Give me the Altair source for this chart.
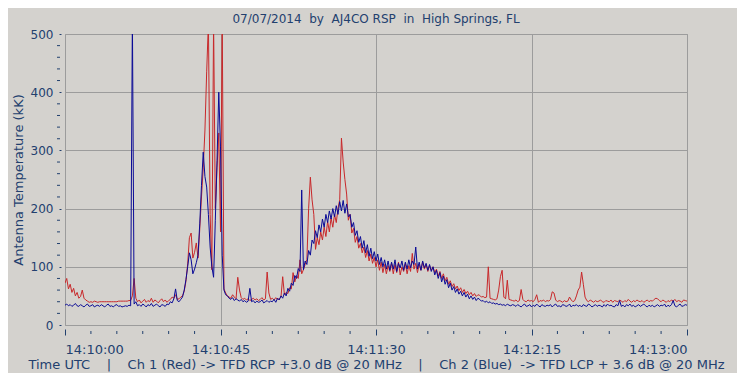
import altair as alt
import pandas as pd

# ---------------- text ----------------
NB = "\u00a0"
title_text = f"07/07/2014{NB*2}by{NB*2}AJ4CO RSP{NB*2}in{NB*2}High Springs, FL"
y_title = "Antenna Temperature (kK)"
caption = (f"Time UTC{NB*4}|{NB*4}Ch 1 (Red) -> TFD RCP +3.0 dB @ 20 MHz"
           f"{NB*4}|{NB*4}Ch 2 (Blue){NB*2}-> TFD LCP + 3.6 dB @ 20 MHz")

# ---------------- axes ----------------
x_tick_seconds = [0, 45, 90, 135, 180]
x_tick_labels = ["14:10:00", "14:10:45", "14:11:30", "14:12:15", "14:13:00"]
x_minor_seconds = [7.5, 15, 22.5, 30, 37.5, 52.5, 60, 67.5, 75, 82.5,
                   97.5, 105, 112.5, 120, 127.5, 142.5, 150, 157.5, 165, 172.5]
y_ticks = [0, 100, 200, 300, 400, 500]
y_minor = [20, 40, 60, 80, 120, 140, 160, 180, 220, 240, 260, 280,
           320, 340, 360, 380, 420, 440, 460, 480]

# ---------------- data (sampled every 0.5 s from 14:10:00) ----------------
sample_step = 0.5
red_kK = [
    72, 80, 62, 70, 56, 63, 50, 56, 46, 49, 60, 46, 43, 41, 39, 40, 39, 41, 40, 39,
    40, 40, 40, 40, 40, 40, 40, 40, 40, 40, 40, 41, 41, 41, 41, 41, 41, 42, 42, 50,
    80, 46, 40, 43, 38, 41, 44, 39, 42, 40, 46, 39, 43, 41, 38, 42, 45, 40, 43, 39,
    42, 44, 48, 46, 52, 44, 45, 48, 50, 58, 75, 105, 150, 158, 115, 125, 141, 115, 165, 220,
    270, 335, 435, 520, 190, 95, 520, 200, 270, 330, 160, 520, 62, 55, 50, 48, 46, 52, 48, 45,
    82, 60, 47, 44, 46, 43, 45, 42, 44, 46, 43, 45, 42, 44, 47, 43, 45, 91, 55, 44,
    46, 43, 47, 44, 45, 48, 83, 52, 56, 54, 64, 62, 90, 74, 85, 80, 112, 88, 95, 104,
    112, 200, 254, 215, 190, 130, 150, 138, 160, 146, 168, 152, 178, 160, 184, 168, 190, 176, 200, 215,
    321, 280, 250, 225, 180, 190, 158, 166, 142, 152, 132, 140, 124, 134, 116, 128, 110, 122, 106, 116,
    100, 112, 94, 108, 90, 104, 88, 102, 92, 106, 88, 104, 90, 108, 86, 100, 92, 106, 88, 102,
    92, 123, 96, 106, 90, 104, 94, 108, 96, 104, 92, 102, 94, 100, 90, 96, 84, 92, 80, 88,
    76, 82, 70, 76, 66, 71, 62, 67, 59, 64, 56, 61, 54, 58, 52, 56, 50, 54, 49, 52,
    51, 48, 49, 47, 48, 100, 46, 45, 44, 43, 45, 60, 83, 94, 48, 45, 77, 44, 43, 42,
    41, 43, 40, 42, 61, 44, 41, 40, 43, 41, 42, 40, 44, 52, 39, 42, 41, 43, 40, 42,
    41, 44, 57, 55, 43, 40, 42, 41, 39, 42, 40, 41, 48, 43, 40, 42, 50, 60, 65, 91,
    70, 48, 42, 40, 43, 41, 39, 42, 40, 41, 43, 40, 39, 42, 41, 40, 43, 39, 42, 41,
    40, 43, 41, 39, 42, 40, 44, 41, 39, 42, 40, 43, 41, 40, 42, 39, 41, 43, 40, 42,
    41, 44, 46, 45, 42, 40, 43, 41, 39, 42, 40, 43, 41, 44, 40, 42, 41, 39, 43, 42,
    41,
]
blue_kK = [
    34, 36, 33, 35, 32, 34, 37, 33, 32, 35, 33, 31, 34, 36, 32, 33, 35, 31, 33, 34,
    32, 35, 33, 31, 34, 36, 32, 33, 31, 34, 35, 32, 33, 31, 32, 33, 32, 34, 33, 530,
    36, 40, 33, 35, 32, 36, 34, 31, 35, 33, 37, 32, 34, 36, 33, 31, 35, 34, 32, 36,
    35, 40, 38, 45, 62, 42, 40, 44, 48, 60, 78, 100, 124, 112, 88, 96, 107, 120, 175, 240,
    297, 255, 237, 190, 134, 100, 82, 180, 283, 400, 306, 120, 60, 52, 50, 46, 44, 47, 42, 45,
    43, 41, 44, 40, 42, 39, 41, 63, 40, 42, 38, 41, 39, 40, 43, 38, 40, 42, 39, 41,
    40, 44, 39, 46, 43, 50, 46, 55, 50, 63, 58, 72, 68, 85, 80, 97, 92, 232, 95, 110,
    104, 128, 120, 146, 140, 162, 150, 172, 160, 182, 168, 190, 176, 196, 182, 200, 186, 205, 190, 212,
    196, 214, 192, 208, 186, 190, 168, 176, 154, 162, 142, 152, 132, 145, 124, 138, 118, 132, 114, 126,
    110, 122, 104, 116, 100, 112, 96, 110, 94, 108, 96, 112, 92, 106, 98, 110, 94, 108, 96, 112,
    98, 110, 104, 134, 96, 108, 94, 110, 98, 106, 94, 104, 92, 100, 86, 94, 80, 90, 74, 84,
    70, 78, 64, 72, 60, 66, 56, 62, 53, 58, 50, 56, 48, 53, 45, 50, 44, 48, 42, 46,
    44, 41, 42, 39, 41, 38, 40, 37, 38, 36, 37, 35, 36, 34, 35, 33, 36, 34, 33, 35,
    34, 32, 35, 33, 31, 34, 36, 32, 33, 35, 31, 34, 32, 36, 33, 31, 35, 33, 32, 34,
    33, 35, 31, 34, 36, 32, 33, 31, 35, 34, 32, 33, 36, 31, 34, 33, 35, 32, 34, 31,
    35, 33, 32, 36, 34, 31, 33, 35, 32, 34, 33, 31, 35, 32, 36, 33, 34, 32, 31, 35,
    33, 42, 32, 34, 31, 35, 33, 36, 32, 34, 31, 33, 35, 32, 34, 36, 33, 31, 34, 32,
    34, 31, 33, 35, 32, 34, 33, 36, 31, 34, 32, 35, 42, 33, 31, 34, 36, 32, 33, 35,
    34,
]

df = pd.DataFrame({
    "t": [i * sample_step for i in range(len(red_kK))],
    "red": red_kK,
    "blue": blue_kK,
})

# ---------------- style ----------------
FONT = "DejaVu Sans"
TXT = "#22406E"
BG = "#D4D2CE"
GRID = "#9C9C9C"
RED = "#C8282A"
BLUE = "#0A0A96"

label_expr = ""
for s, lab in zip(x_tick_seconds, x_tick_labels):
    label_expr += f"datum.value == {s} ? '{lab}' : "
label_expr += "''"

x_scale = alt.Scale(domain=[0, 180], nice=False, zero=False)
y_scale = alt.Scale(domain=[0, 500], nice=False)

x_axis = alt.Axis(
    values=x_tick_seconds, labelExpr=label_expr, grid=True, gridColor=GRID,
    gridWidth=1, domain=False, tickSize=6, tickColor=TXT, offset=4,
    labelPadding=8, labelFont=FONT, labelFontSize=13, labelColor=TXT,
    title=caption, titleFont=FONT, titleFontSize=13, titleFontWeight="normal",
    titleColor=TXT, titleX=311, titleY=39, titleAlign="center",
    titleBaseline="alphabetic",
)
y_axis = alt.Axis(
    values=y_ticks, grid=True, gridColor=GRID, gridWidth=1, domain=False,
    tickSize=2, tickColor=TXT, offset=4, labelPadding=6, labelFont=FONT,
    labelFontSize=12, labelColor=TXT, title=y_title, titleFont=FONT,
    titleFontSize=13, titleFontWeight="normal", titleColor=TXT,
    titleX=-43, titleY=145.5, titleAlign="center", titleBaseline="middle",
    titleAngle=270,
)

base = alt.Chart(df)
red_line = base.mark_line(color=RED, strokeWidth=1, clip=True).encode(
    x=alt.X("t:Q", scale=x_scale, axis=x_axis),
    y=alt.Y("red:Q", scale=y_scale, axis=y_axis),
)
blue_line = base.mark_line(color=BLUE, strokeWidth=1, clip=True).encode(
    x=alt.X("t:Q", scale=x_scale, axis=x_axis),
    y=alt.Y("blue:Q", scale=y_scale, axis=y_axis),
)

x_minor_layer = alt.Chart(pd.DataFrame({"t": x_minor_seconds})).mark_rule(
    color=TXT, strokeWidth=1
).encode(
    x=alt.X("t:Q", scale=x_scale, axis=x_axis),
    y=alt.value(297), y2=alt.value(300),
)
y_minor_layer = alt.Chart(pd.DataFrame({"v": y_minor})).mark_rule(
    color=TXT, strokeWidth=1
).encode(
    y=alt.Y("v:Q", scale=y_scale, axis=y_axis),
    x=alt.value(-8), x2=alt.value(-5),
)

chart = alt.layer(red_line, blue_line, x_minor_layer, y_minor_layer).properties(
    width=622,
    height=291,
    title=alt.TitleParams(
        text=title_text, font=FONT, fontSize=12, fontWeight="normal",
        color=TXT, anchor="middle", offset=2,
    ),
    padding={"left": 57, "top": 26, "right": 50, "bottom": 48},
    autosize=alt.AutoSizeParams(type="none"),
    background=BG,
).configure_view(stroke=GRID, strokeWidth=1)

chart.save("out.html", embed_options={"renderer": "svg", "actions": False})
